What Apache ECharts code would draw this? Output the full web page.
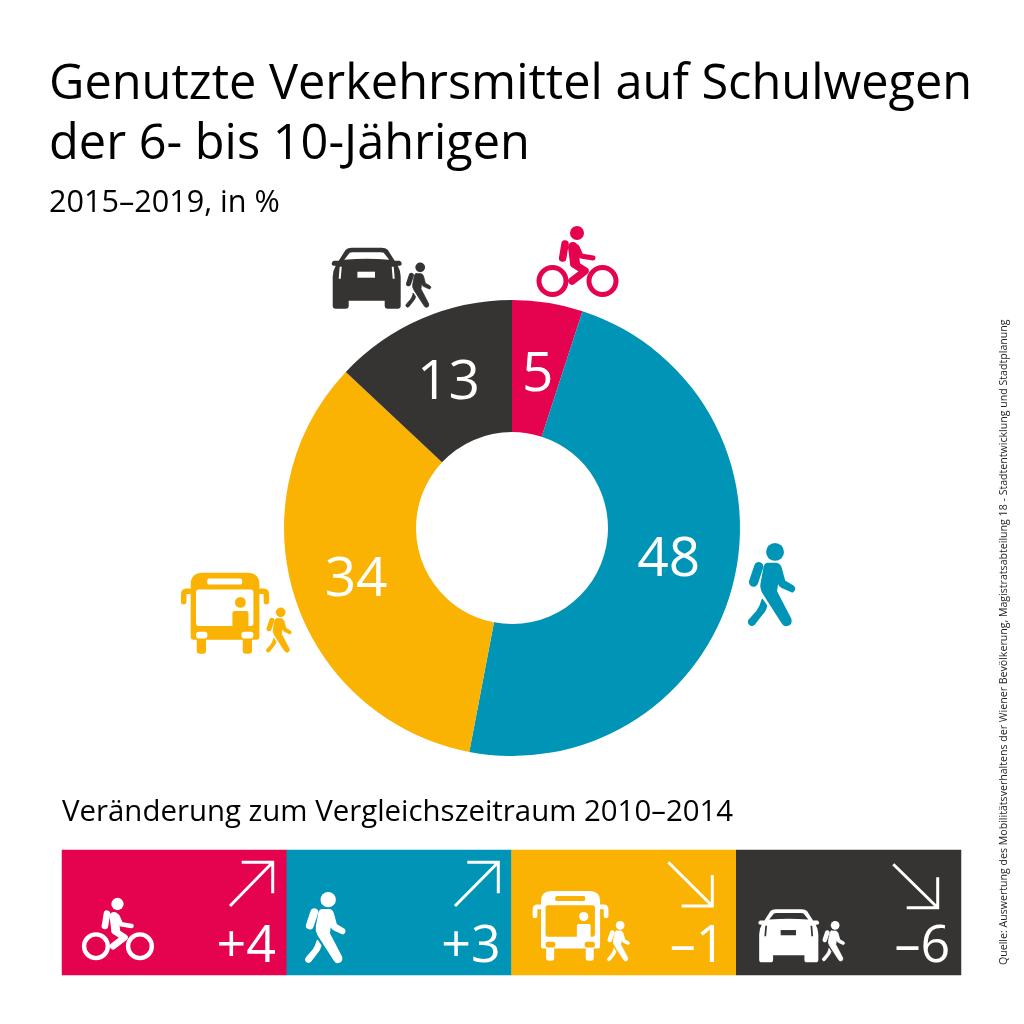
<!DOCTYPE html>
<html>
<head>
<meta charset="utf-8">
<title>Genutzte Verkehrsmittel auf Schulwegen</title>
<style>
html,body{margin:0;padding:0;background:#fff}
#chart{width:1024px;height:1024px}
</style>
<script src="https://cdn.jsdelivr.net/npm/echarts@6/dist/echarts.min.js"></script>
</head>
<body>
<div id="chart"></div>
<script>
// data
var modes = ['Rad', 'zu Fuß', 'Öffis und zu Fuß', 'Auto und zu Fuß'];
var shares = [5, 48, 34, 13];
var changes = [4, 3, -1, -6];
var changeLabels = ['+4', '+3', '–1', '–6'];

var colors = ['#e5024e', '#0094b6', '#fab303', '#353433'];
var FONT = '"Open Sans", "Noto Sans", sans-serif';

// type:'path' wirft in graphic einen Fehler, deshalb eigene Shapes registrieren
var shapeCount = 0;
function p(d, fill, stroke, w) {
	var name = 'iconPath' + (shapeCount++);
	echarts.graphic.registerShape(name, echarts.graphic.extendPath(d));
	return {type: name, shape: {}, z: 10, style: {
		fill: fill || 'none', stroke: stroke || 'none', lineWidth: w || 0, lineCap: 'round', lineJoin: 'round'
	}};
}
function circle(cx, cy, r, fill, stroke, w) {
	return {type: 'circle', z: 10, shape: {cx: cx, cy: cy, r: r}, style: {fill: fill || 'none', stroke: stroke || 'none', lineWidth: w || 0}};
}
function group(x, y, s, children) {
	return {type: 'group', x: x, y: y, scaleX: s, scaleY: s, children: children};
}

function walker(x, y, s, c) {
	return group(x, y, s, [
		circle(34.3, 16.7, 8.7, c),
		p('M18.5 31 L13.5 46', null, c, 9),
		p('M27 28 L35 28 Q38.5 28 40 32 L43.5 45 L52 50 Q55 53 51 55.5 L41 51 Q38.5 50 37.5 47 L37 44 L35.5 55 L49.5 82 Q50.5 87 46 88 Q43 88.5 41 85 L23 57 Q20 52 21 47 L24 31 Q25 28 27 28 Z', c, c, 1.5),
		p('M22 63 L26 69 Q25 74 21 78 L14 87 Q11 89 9 86 Q8 84 10 82 L17 74 Q20 70 21 66 Z', c, c, 1.5)
	]);
}

function bike(x, y, s, c) {
	// Ursprung ist der Kopf
	return group(x, y, s, [
		circle(0, 0, 7, c),
		circle(-24.5, 48, 13.5, null, c, 5),
		circle(25.5, 48, 13.5, null, c, 5),
		p('M-12 11 L-14.3 25', null, c, 7.5),
		p('M-4 14 L-2 30', null, c, 10),
		p('M0 14 L4 23 L16 25', null, c, 5),
		p('M-3 31 L8 38 L-5 48', null, c, 7.5)
	]);
}

function car(x, y, s, c, cut) {
	return group(x, y, s, [
		p('M14 3 Q16 1 20 1 L50 1 Q54 1 56 3 L63 14 L68 14 Q70 15 70 17 Q70 19 67 19 L66 19 Q69 24 69 30 L69 59 Q69 62 66 62 L56 62 Q53 62 53 59 L53 54 L17 54 L17 59 Q17 62 14 62 L4 62 Q1 62 1 59 L1 30 Q1 24 4 19 L3 19 Q0 19 0 17 Q0 15 2 14 L7 14 Z', c),
		p('M12.5 13 L18 6 Q19 5.5 21 5.5 L49 5.5 Q51 5.5 52 6 L57.5 13 Q35 11 12.5 13 Z', cut),
		p('M8 20 L10 20 L9 32 L7 32 Z', cut),
		p('M62 20 L60 20 L61 32 L63 32 Z', cut),
		p('M25.7 25 L43.3 25 L43.3 31 L25.7 31 Z', cut)
	]);
}

function bus(x, y, s, c, cut) {
	return group(x, y, s, [
		p('M12 0 L56.7 0 Q68.7 0 68.7 12 L68.7 64 Q68.7 67 65.7 67 L61.3 67 L61.3 78 Q61.3 81 58.3 81 L55 81 Q52 81 52 78 L52 67 L15.3 67 L15.3 78 Q15.3 81 12.3 81 L9 81 Q6 81 6 78 L6 67 L3 67 Q0 67 0 64 L0 12 Q0 0 12 0 Z', c),
		p('M-1 18.5 L-4 18.5 Q-7 18.5 -7 22 L-7 29', null, c, 5.5),
		p('M69.7 18.5 L72.7 18.5 Q75.7 18.5 75.7 22 L75.7 29', null, c, 5.5),
		p('M18 5.7 L50 5.7 Q51.5 5.7 51.5 8.7 Q51.5 11.7 50 11.7 L18 11.7 Q16.5 11.7 16.5 8.7 Q16.5 5.7 18 5.7 Z', cut),
		p('M8 16.7 L60 16.7 Q62.7 16.7 62.7 19.7 L62.7 50.3 Q62.7 53.3 60 53.3 L8 53.3 Q5.3 53.3 5.3 50.3 L5.3 19.7 Q5.3 16.7 8 16.7 Z', cut),
		circle(49.7, 29.7, 5.4, c),
		p('M44 38.3 L55.5 38.3 Q57.7 38.3 57.7 40.5 L57.7 56 L41.7 56 L41.7 40.5 Q41.7 38.3 44 38.3 Z', c),
		p('M8 59 L14 59 Q16.7 59 16.7 62.3 Q16.7 65.7 14 65.7 L8 65.7 Q5.3 65.7 5.3 62.3 Q5.3 59 8 59 Z', cut),
		p('M53.5 59 L60 59 Q62.7 59 62.7 62.3 Q62.7 65.7 60 65.7 L53.5 65.7 Q50.7 65.7 50.7 62.3 Q50.7 59 53.5 59 Z', cut)
	]);
}

function arrow(d) {
	var a = p(d, null, '#fff', 3);
	a.style.lineCap = 'butt';
	a.style.lineJoin = 'miter';
	return a;
}

// y ist die Grundlinie
function text(str, x, y, size, color) {
	return {type: 'text', x: x, y: y - 0.8 * size, z: 10, style: {
		text: str, fontSize: size, fontFamily: FONT, fill: color || '#000'
	}};
}

var chart = echarts.init(document.getElementById('chart'));

var pieData = [];
// Feinkorrektur der Beschriftung, die 48 sitzt im Original höher als die Ringmitte
var labelOffsets = [[0, 10], [-3, -9], [1, 1], [2, 7]];
for (var i = 0; i < modes.length; i++) {
	pieData.push({
		name: modes[i], value: shares[i],
		itemStyle: {color: colors[i]},
		label: {offset: labelOffsets[i]}
	});
}

var cells = [];
for (var j = 0; j < modes.length; j++) {
	cells.push({value: [j, 0, changes[j]], itemStyle: {color: colors[j]}});
}

var source = text('Quelle: Auswertung des Mobilitätsverhaltens der Wiener Bevölkerung, Magistratsabteilung 18 - Stadtentwicklung und Stadtplanung', 998, 965, 10.6, '#222');
source.y = 965;
source.rotation = Math.PI / 2;

chart.setOption({
	backgroundColor: '#fff',
	animation: false,
	grid: {left: 62, top: 850, width: 899, height: 125},
	xAxis: {type: 'category', data: modes, show: false},
	yAxis: {type: 'category', data: ['Veränderung'], show: false},
	series: [{
		type: 'pie',
		center: [512, 528],
		radius: [96, 228],
		startAngle: 90,
		clockwise: true,
		silent: true,
		label: {show: true, position: 'inside', color: '#fff', fontSize: 55, fontFamily: FONT, formatter: '{c}'},
		labelLine: {show: false},
		data: pieData
	}, {
		type: 'heatmap',
		silent: true,
		data: cells,
		label: {
			show: true, position: 'insideBottomRight', distance: 0, offset: [-11, -2],
			color: '#fff', fontSize: 52, fontFamily: FONT,
			formatter: function (d) { return changeLabels[d.dataIndex]; }
		}
	}],
	graphic: {
		elements: [
			text('Genutzte Verkehrsmittel auf Schulwegen', 49, 100, 48.7),
			text('der 6- bis 10-Jährigen', 49, 160, 48.7),
			text('2015–2019, in %', 49, 212, 30.6),
			text('Veränderung zum Vergleichszeitraum 2010–2014', 62, 822, 29.4),
			source,

			// Symbole am Ring
			car(331.7, 246.7, 1, colors[3], '#fff'),
			walker(401, 258, 0.56, colors[3]),
			bike(577, 233, 1, colors[0]),
			walker(739.7, 534.7, 1.03, colors[1]),
			bus(190.7, 572.7, 1, colors[2], '#fff'),
			walker(261.5, 603, 0.56, colors[2]),

			// Symbole in der Leiste
			bike(117.5, 904, 0.88, '#fff'),
			walker(298, 885, 0.88, '#fff'),
			bus(541, 891, 0.86, '#fff', colors[2]),
			walker(603, 917, 0.5, '#fff'),
			car(758.3, 908.3, 0.87, '#fff', colors[3]),
			walker(818, 917, 0.5, '#fff'),

			arrow('M230 906 L272.7 862.3 M241.7 862.3 L272.7 862.3 L272.7 893.3'),
			arrow('M455 906 L498.3 862.3 M467.3 862.3 L498.3 862.3 L498.3 893.3'),
			arrow('M668.3 862.3 L712.3 906 M681.7 906 L712.3 906 L712.3 875'),
			arrow('M893.3 864.3 L937.7 907.7 M906.7 907.7 L937.7 907.7 L937.7 877.3')
		]
	}
});
</script>
</body>
</html>
